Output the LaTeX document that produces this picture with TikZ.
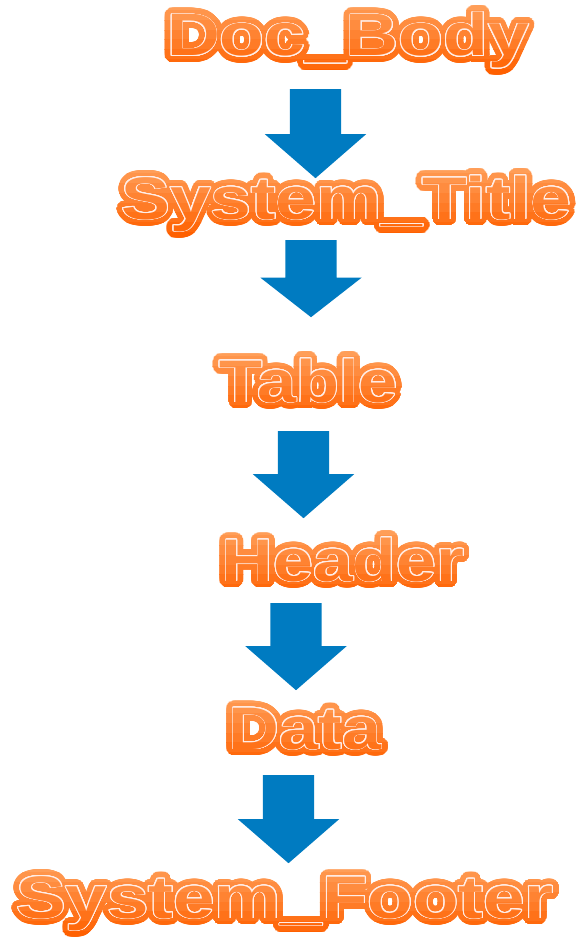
\documentclass[tikz,border=0pt]{standalone}
\usepackage{fontspec}
\setmainfont{Liberation Sans}
\usepackage{contour}
\usetikzlibrary{shapes.arrows}
\definecolor{arttop}{RGB}{255,158,88}
\definecolor{artbot}{RGB}{255,96,0}
\definecolor{artline}{RGB}{255,238,232}
\definecolor{flowblue}{RGB}{0,123,193}
% word art: name, x, baseline, x-stretch, text
\newcommand{\artword}[5]{%
	\node[wordart] (#1) at (#2,#3) {\phantom{\scalebox{#4}[1]{#5}}};
	\foreach \k in {0,...,7}{
		\pgfmathsetmacro{\mixpct}{100-\k*100/7}
		\colorlet{bandcol}{arttop!\mixpct!artbot}
		\begin{scope}
			\clip (0,{#3-55+\k*9.75}) rectangle (584,{#3-45.25+\k*9.75});
			\node[wordart] at (#2,#3) {\contourlength{6.5pt}\contour[48]{bandcol}{\textcolor{bandcol}{\scalebox{#4}[1]{#5}}}};
			\node[wordart] at (#2,#3) {\contourlength{0.9pt}\contour[24]{artline}{\textcolor{bandcol}{\scalebox{#4}[1]{#5}}}};
		\end{scope}
	}
}
\begin{document}
\begin{tikzpicture}[x=1pt, y=-1pt,
		wordart/.style={anchor=base, inner sep=0pt, font=\fontsize{60}{60}\selectfont\bfseries},
		flowarrow/.style={single arrow, fill=flowblue, draw=none, anchor=tail, rotate=-90,
			inner xsep=0pt, inner ysep=25.5pt, single arrow head extend=25pt, single arrow tip angle=98}]
		\useasboundingbox[fill=white] (0,0) rectangle (584,942);
		\artword{docbody}{348}{56}{1.22}{Doc\_Body}
		\artword{systitle}{346.5}{219}{1.22}{System\_Title}
		\artword{table}{308.5}{402}{1.17}{Table}
		\artword{header}{343}{581}{1.19}{Header}
		\artword{data}{305}{749}{1.17}{Data}
		\artword{sysfooter}{285}{918}{1.24}{System\_Footer}
		\node[flowarrow, minimum height=89pt] (arrA) at (315.5,89) {};
		\node[flowarrow, minimum height=77pt, single arrow tip angle=104] (arrB) at (311,240) {};
		\node[flowarrow, minimum height=87pt] (arrC) at (303.5,431) {};
		\node[flowarrow, minimum height=87pt] (arrD) at (296,603) {};
		\node[flowarrow, minimum height=88pt] (arrE) at (288.5,775) {};
\end{tikzpicture}
\end{document}
